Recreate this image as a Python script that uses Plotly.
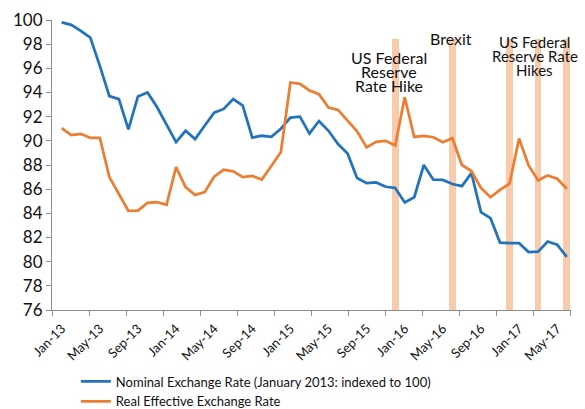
import plotly.graph_objects as go
import pandas as pd

# Monthly categories Jan-2013 .. Jun-2017
months = [d.strftime("%b-%y") for d in pd.date_range("2013-01-01", periods=54, freq="MS")]

nominal = [99.8, 99.6, 99.1, 98.55, 96.2, 93.7, 93.45, 90.95, 93.67, 94.0,
           92.8, 91.4, 89.9, 90.83, 90.14, 91.25, 92.33, 92.64, 93.45, 92.92,
           90.27, 90.42, 90.33, 91.0, 91.92, 92.0, 90.6, 91.64, 90.83, 89.73,
           88.95, 86.93, 86.5, 86.56, 86.2, 86.1, 84.9, 85.33, 88.0, 86.78,
           86.76, 86.43, 86.25, 87.33, 84.1, 83.6, 81.58, 81.53, 81.53, 80.8,
           80.83, 81.67, 81.4, 80.4]

reer = [91.06, 90.47, 90.58, 90.25, 90.25, 87.0, 85.6, 84.2, 84.23, 84.86,
        84.93, 84.7, 87.83, 86.17, 85.52, 85.75, 87.03, 87.62, 87.47, 87.0,
        87.09, 86.79, 87.92, 89.08, 94.83, 94.72, 94.17, 93.86, 92.75, 92.56,
        91.67, 90.78, 89.46, 89.92, 90.0, 89.62, 93.6, 90.32, 90.41, 90.3,
        89.88, 90.22, 88.0, 87.5, 86.1, 85.33, 85.94, 86.45, 90.2, 87.97,
        86.72, 87.14, 86.86, 86.03]

event_months = ["Dec-15", "Jun-16", "Dec-16", "Mar-17", "Jun-17"]
event_height = [98.4, 98.4, 98.4, 98.4, 98.4]

tick_labels = ["Jan-13", "May-13", "Sep-13", "Jan-14", "May-14", "Sep-14", "Jan-15",
               "May-15", "Sep-15", "Jan-16", "May-16", "Sep-16", "Jan-17", "May-17"]

idx = list(range(len(months)))
event_idx = [months.index(m) for m in event_months]
tick_idx = [months.index(m) for m in tick_labels]

FONT = "Lato, Calibri, sans-serif"

fig = go.Figure()
fig.add_trace(go.Bar(x=event_idx, y=event_height, width=0.7,
                     marker=dict(color="#F8CBAD", line=dict(width=0)),
                     showlegend=False, hoverinfo="skip"))
fig.add_trace(go.Scatter(x=idx, y=nominal, mode="lines",
                         name="Nominal Exchange Rate (January 2013: indexed to 100)",
                         line=dict(color="#2272BC", width=2.75)))
fig.add_trace(go.Scatter(x=idx, y=reer, mode="lines",
                         name="Real Effective Exchange Rate",
                         line=dict(color="#ED7D31", width=2.75)))

def ann(x, y, text, size=15.5):
    fig.add_annotation(x=x, y=y, xref="x", yref="y", text=text, showarrow=False,
                       font=dict(family=FONT, size=size, color="#111111"),
                       xanchor="center", yanchor="middle")

ann(34.4, 96.87, "US Federal", 16)
ann(34.4, 95.75, "Reserve", 16)
ann(34.4, 94.6, "Rate Hike", 16)
ann(40.85, 98.5, "Brexit", 16)
ann(49.65, 98.15, "US Federal", 15)
ann(49.65, 97.0, "Reserve Rate", 15)
ann(49.65, 95.9, "Hikes", 15)

fig.update_layout(
    width=585, height=409,
    margin=dict(l=52, r=14, t=20, b=99, autoexpand=False),
    paper_bgcolor="white", plot_bgcolor="white",
    bargap=0,
    font=dict(family=FONT, color="#111111"),
    legend=dict(orientation="v", x=0.046, y=-0.195, xanchor="left", yanchor="top",
                font=dict(family=FONT, size=13, color="#111111"),
                bgcolor="rgba(0,0,0,0)", tracegroupgap=0),
    xaxis=dict(range=[-1.02, 53.45], tickvals=tick_idx, ticktext=tick_labels,
               tickangle=-45, tickfont=dict(family=FONT, size=13, color="#111111"),
               ticks="outside", ticklen=5, tickcolor="rgba(0,0,0,0)",
               showline=True, linecolor="#8C8C8C", linewidth=1, showgrid=False,
               zeroline=False, automargin=False,
               minor=dict(tick0=-1.02, dtick=3.89, ticks="outside", ticklen=5,
                          tickcolor="#8C8C8C", showgrid=False)),
    yaxis=dict(range=[76, 100], dtick=2, tick0=76,
               tickfont=dict(family=FONT, size=17, color="#111111"),
               ticks="outside", ticklen=5, tickcolor="#8C8C8C",
               showline=True, linecolor="#8C8C8C", linewidth=1, showgrid=False,
               zeroline=False, automargin=False),
)

fig.write_html("out.html", config={"displayModeBar": False},
               post_script="document.body.style.margin='0';document.body.style.overflow='hidden';")
